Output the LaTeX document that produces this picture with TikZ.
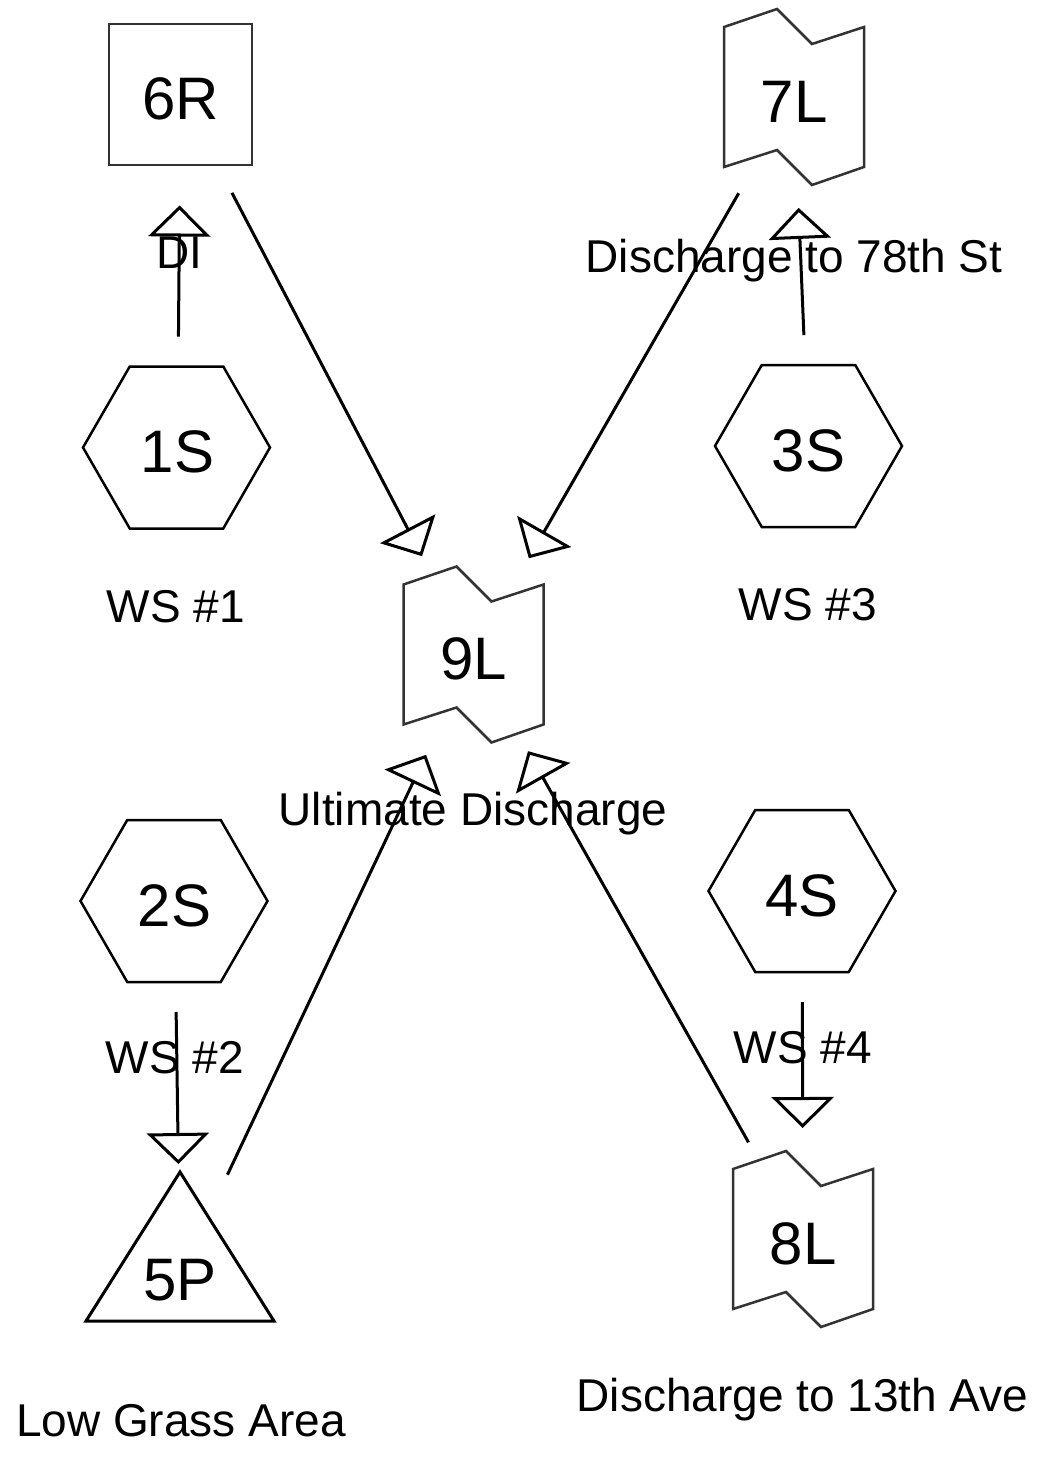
\documentclass[tikz,border=0pt]{standalone}
\usepackage{fontspec}
\setmainfont{Liberation Sans}
\usetikzlibrary{arrows.meta}

\tikzset{
  % outlines of the element symbols
  reachline/.style={draw=black!80, line width=2.5pt, line join=miter},
  subline/.style={draw=black, line width=2.5pt, line join=miter},
  pondline/.style={draw=black, line width=3pt, line join=miter},
  % element id inside a symbol (text sits a little below the symbol centre)
  idtext/.style={font=\fontsize{60}{60}\selectfont, inner sep=0pt,
                 text height=50.5pt, text depth=0pt},
  % captions under / beside the symbols
  caption/.style={font=\fontsize{46}{46}\selectfont, anchor=base, inner sep=0pt},
  % routing arrows between element centres
  flow/.style={line width=3pt, line join=miter,
               -{Triangle[open,length=31pt,width=62pt]},
               shorten <=111pt, shorten >=111pt},
  % symbol shapes, drawn around the element centre
  subcat/.pic={\draw[subline] (-93.5,0) -- (-46.75,-81) -- (46.75,-81)
                 -- (93.5,0) -- (46.75,81) -- (-46.75,81) -- cycle;},
  reachbox/.pic={\draw[reachline] (-71.5,-70.5) rectangle (71.5,70.5);},
  linkbox/.pic={\draw[reachline] (-70,-70) -- (-17,-88) -- (18,-53) -- (70,-70)
                 -- (70,70) -- (18,88) -- (-17,53) -- (-70,70) -- cycle;},
  pondtri/.pic={\draw[pondline] (0,-103) -- (94,46) -- (-94,46) -- cycle;},
}

\begin{document}
\begin{tikzpicture}[x=1pt,y=-1pt]
\useasboundingbox (0,0) rectangle (1038,1458);

% symbols
\pic at (180.5,94.5) {reachbox};
\pic at (794,97) {linkbox};
\pic at (176.5,447.5) {subcat};
\pic at (808.5,446) {subcat};
\pic at (473.5,654.5) {linkbox};
\pic at (174,901) {subcat};
\pic at (802,891) {subcat};
\pic at (803,1239) {linkbox};
\pic at (180,1275) {pondtri};

% element ids
\node[idtext] (n6R) at (180.5,94.5) {6R};
\node[idtext] (n7L) at (794,97) {7L};
\node[idtext] (n1S) at (177.5,447.5) {1S};
\node[idtext] (n3S) at (808.5,446) {3S};
\node[idtext] (n9L) at (473.5,654.5) {9L};
\node[idtext] (n2S) at (174.5,901) {2S};
\node[idtext] (n4S) at (802,891) {4S};
\node[idtext] (n8L) at (803,1239) {8L};
\node[idtext] (n5P) at (180,1275) {5P};

% captions
\node[caption] (c6R) at (179,268) {DI};
\node[caption] (c7L) at (794,272) {Discharge to 78th St};
\node[caption] (c1S) at (176,622) {WS \#1};
\node[caption] (c3S) at (808,620) {WS \#3};
\node[caption] (c9L) at (473,825) {Ultimate Discharge};
\node[caption] (c2S) at (175,1073) {WS \#2};
\node[caption] (c4S) at (803,1063) {WS \#4};
\node[caption] (c8L) at (802.5,1411) {Discharge to 13th Ave};
\node[caption] (c5P) at (181,1436) {Low Grass Area};

% routing
\draw[flow] (n1S.center) -- (n6R.center);
\draw[flow] (n6R.center) -- (n9L.center);
\draw[flow] (n3S.center) -- (n7L.center);
\draw[flow] (n7L.center) -- (n9L.center);
\draw[flow] (n2S.center) -- (n5P.center);
\draw[flow] (n5P.center) -- (n9L.center);
\draw[flow] (n4S.center) -- (n8L.center);
\draw[flow] (n8L.center) -- (n9L.center);
\end{tikzpicture}
\end{document}
